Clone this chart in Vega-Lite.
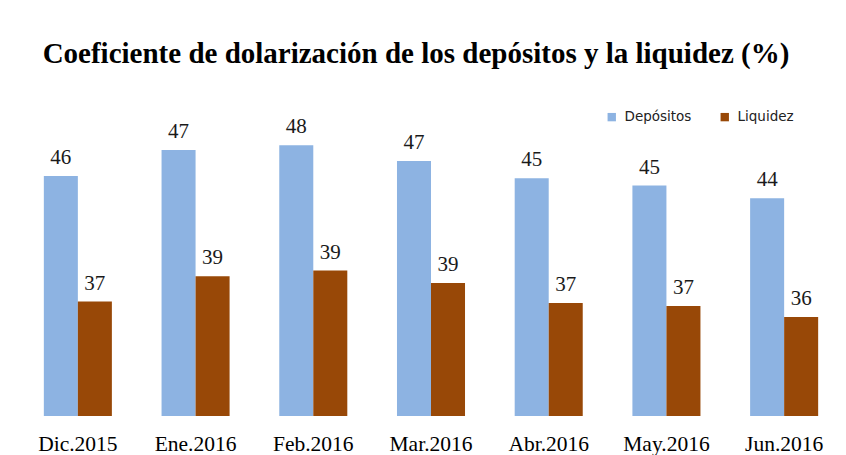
{
  "$schema": "https://vega.github.io/schema/vega-lite/v6.json",
  "width": 824,
  "height": 308,
  "autosize": {"type": "none"},
  "padding": {"left": 19, "top": 108, "right": 3, "bottom": 39},
  "background": "white",
  "title": {
    "text": "Coeficiente de dolarización de los depósitos y la liquidez (%)",
    "font": "Liberation Serif",
    "fontSize": 29,
    "fontWeight": "bold",
    "color": "#000000",
    "anchor": "middle",
    "frame": "group",
    "baseline": "alphabetic",
    "dx": -15,
    "offset": 16
  },
  "data": {
    "values": [
      {"mes": "Dic.2015", "serie": "Depósitos", "valor": 45.58},
      {"mes": "Dic.2015", "serie": "Liquidez", "valor": 37.43},
      {"mes": "Ene.2016", "serie": "Depósitos", "valor": 47.27},
      {"mes": "Ene.2016", "serie": "Liquidez", "valor": 39.07},
      {"mes": "Feb.2016", "serie": "Depósitos", "valor": 47.58},
      {"mes": "Feb.2016", "serie": "Liquidez", "valor": 39.44},
      {"mes": "Mar.2016", "serie": "Depósitos", "valor": 46.56},
      {"mes": "Mar.2016", "serie": "Liquidez", "valor": 38.64},
      {"mes": "Abr.2016", "serie": "Depósitos", "valor": 45.44},
      {"mes": "Abr.2016", "serie": "Liquidez", "valor": 37.34},
      {"mes": "May.2016", "serie": "Depósitos", "valor": 44.96},
      {"mes": "May.2016", "serie": "Liquidez", "valor": 37.14},
      {"mes": "Jun.2016", "serie": "Depósitos", "valor": 44.14},
      {"mes": "Jun.2016", "serie": "Liquidez", "valor": 36.43}
    ]
  },
  "encoding": {
    "x": {
      "field": "mes",
      "type": "nominal",
      "sort": ["Dic.2015", "Ene.2016", "Feb.2016", "Mar.2016", "Abr.2016", "May.2016", "Jun.2016"],
      "scale": {"paddingInner": 0.422, "paddingOuter": 0.211},
      "axis": {
        "title": null,
        "domain": false,
        "ticks": false,
        "labelAngle": 0,
        "labelFont": "Liberation Serif",
        "labelFontSize": 21.5,
        "labelColor": "#000000",
        "labelBaseline": "alphabetic",
        "labelPadding": 34
      }
    },
    "xOffset": {
      "field": "serie",
      "type": "nominal",
      "sort": ["Depósitos", "Liquidez"],
      "scale": {"paddingInner": 0, "paddingOuter": 0}
    },
    "y": {
      "field": "valor",
      "type": "quantitative",
      "scale": {"domain": [30, 50], "zero": false, "nice": false},
      "axis": null
    }
  },
  "layer": [
    {
      "mark": {"type": "bar", "clip": true},
      "encoding": {
        "color": {
          "field": "serie",
          "type": "nominal",
          "sort": ["Depósitos", "Liquidez"],
          "scale": {"domain": ["Depósitos", "Liquidez"], "range": ["#8DB3E2", "#984807"]},
          "legend": {
            "title": null,
            "orient": "none",
            "legendX": 586,
            "legendY": 2,
            "direction": "horizontal",
            "symbolType": "square",
            "symbolSize": 70,
            "symbolStrokeWidth": 0,
            "labelFont": "DejaVu Sans",
            "labelFontSize": 13.5,
            "labelColor": "#222222",
            "labelOffset": 6,
            "columnPadding": 26
          }
        }
      }
    },
    {
      "mark": {
        "type": "text",
        "baseline": "alphabetic",
        "dy": -12,
        "font": "Liberation Serif",
        "fontSize": 21,
        "color": "#1a1a1a"
      },
      "encoding": {
        "text": {"field": "valor", "type": "quantitative", "format": ".0f"}
      }
    }
  ],
  "config": {"view": {"stroke": null}}
}
